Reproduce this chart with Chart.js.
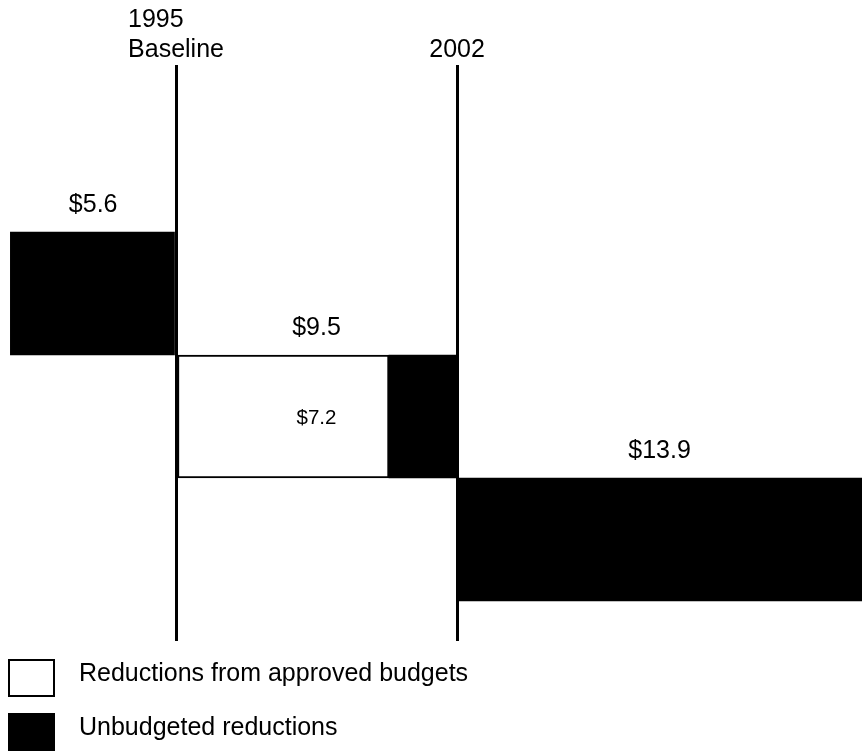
<!DOCTYPE html>
<html lang="en">

<head>
    <meta charset="UTF-8" />
    <title>Reductions 1995 baseline to 2002</title>
    <script src="https://cdn.jsdelivr.net/npm/chart.js"></script>
    <style>
        body { margin: 0; background: #fff; }
        #wrap { width: 862px; height: 751px; }
    </style>
</head>

<body>
    <div id="wrap"><canvas id="grafica"></canvas></div>

    <script>
        // rows from top to bottom
        const rows = [1, 2, 3];
        // billions of dollars, cumulative from the 1995 baseline
        const approvedStart = [null, 0, null];
        const approvedEnd = [null, 7.2, null];
        const unbudgetedStart = [-5.6, 7.2, 9.5];
        const unbudgetedEnd = [0, 9.5, 23.4];
        const totalLabels = ["$5.6", "$9.5", "$13.9"];
        const innerLabel = "$7.2";
        // vertical reference lines
        const markerValues = [0, 9.5];
        const markerLabels = [["1995", "Baseline"], ["2002"]];

        const FONT = '"Liberation Sans", Arial, sans-serif';
        const BAR_H = 123;

        function toPairs(starts, ends) {
            return rows.map((r, i) => ({
                y: r,
                x: starts[i] === null ? null : [starts[i], ends[i]]
            }));
        }

        const textPlugin = {
            id: "textos",
            afterDraw(chart) {
                const ctx = chart.ctx;
                const x = chart.scales.x;
                const y = chart.scales.y;
                ctx.save();
                ctx.fillStyle = "#000";
                ctx.textBaseline = "alphabetic";
                ctx.font = "25px " + FONT;

                // labels above the reference lines
                markerValues.forEach((v, i) => {
                    const px = x.getPixelForValue(v);
                    const lines = markerLabels[i];
                    if (lines.length > 1) {
                        ctx.textAlign = "left";
                        const left = px - ctx.measureText(lines[1]).width / 2;
                        ctx.fillText(lines[0], left, 27);
                        ctx.fillText(lines[1], left, 57);
                    } else {
                        ctx.textAlign = "center";
                        ctx.fillText(lines[0], px, 57);
                    }
                });

                // totals above each row
                rows.forEach((r, i) => {
                    const start = Math.min(unbudgetedStart[i], approvedStart[i] ?? Infinity);
                    const mid = (x.getPixelForValue(start) + x.getPixelForValue(Math.min(unbudgetedEnd[i], x.max))) / 2;
                    ctx.textAlign = "center";
                    ctx.fillText(totalLabels[i], mid, y.getPixelForValue(r) - BAR_H / 2 - 20);
                    if (i === 1) {
                        ctx.font = "20.5px " + FONT;
                        ctx.fillText(innerLabel, mid, y.getPixelForValue(r) + 7);
                        ctx.font = "25px " + FONT;
                    }
                });

                // legend
                chart.data.datasets.forEach((ds, i) => {
                    const top = 659 + i * 54;
                    ctx.fillStyle = ds.backgroundColor;
                    ctx.fillRect(8, top, 47, 38);
                    if (ds.borderWidth) {
                        ctx.strokeStyle = "#000";
                        ctx.lineWidth = 2;
                        ctx.strokeRect(9, top + 1, 45, 36);
                    }
                    ctx.fillStyle = "#000";
                    ctx.textAlign = "left";
                    ctx.fillText(ds.label, 79, top + 22);
                });
                ctx.restore();
            }
        };

        const barStyle = {
            grouped: false,
            barThickness: BAR_H,
            borderSkipped: false
        };

        const ctx = document.getElementById("grafica").getContext("2d");
        new Chart(ctx, {
            type: "bar",
            data: {
                datasets: [
                    {
                        label: "Reductions from approved budgets",
                        data: toPairs(approvedStart, approvedEnd),
                        backgroundColor: "#ffffff",
                        borderColor: "#000000",
                        borderWidth: 2,
                        ...barStyle
                    },
                    {
                        label: "Unbudgeted reductions",
                        data: toPairs(unbudgetedStart, unbudgetedEnd),
                        backgroundColor: "#000000",
                        borderWidth: 0,
                        ...barStyle
                    }
                ]
            },
            options: {
                indexAxis: "y",
                responsive: true,
                maintainAspectRatio: false,
                animation: false,
                layout: { padding: { top: 65, bottom: 110, left: 0, right: 0 } },
                plugins: {
                    legend: { display: false },
                    tooltip: { enabled: false }
                },
                scales: {
                    x: {
                        type: "linear",
                        min: -5.95,
                        max: 23.19,
                        offset: false,
                        afterBuildTicks: s => { s.ticks = markerValues.map(v => ({ value: v })); },
                        ticks: { display: false },
                        border: { display: false },
                        grid: { color: "#000", lineWidth: 3, drawTicks: false, offset: false }
                    },
                    y: {
                        type: "linear",
                        reverse: true,
                        offset: false,
                        min: -0.858,
                        max: 3.825,
                        display: false
                    }
                }
            },
            plugins: [textPlugin]
        });
    </script>
</body>

</html>
